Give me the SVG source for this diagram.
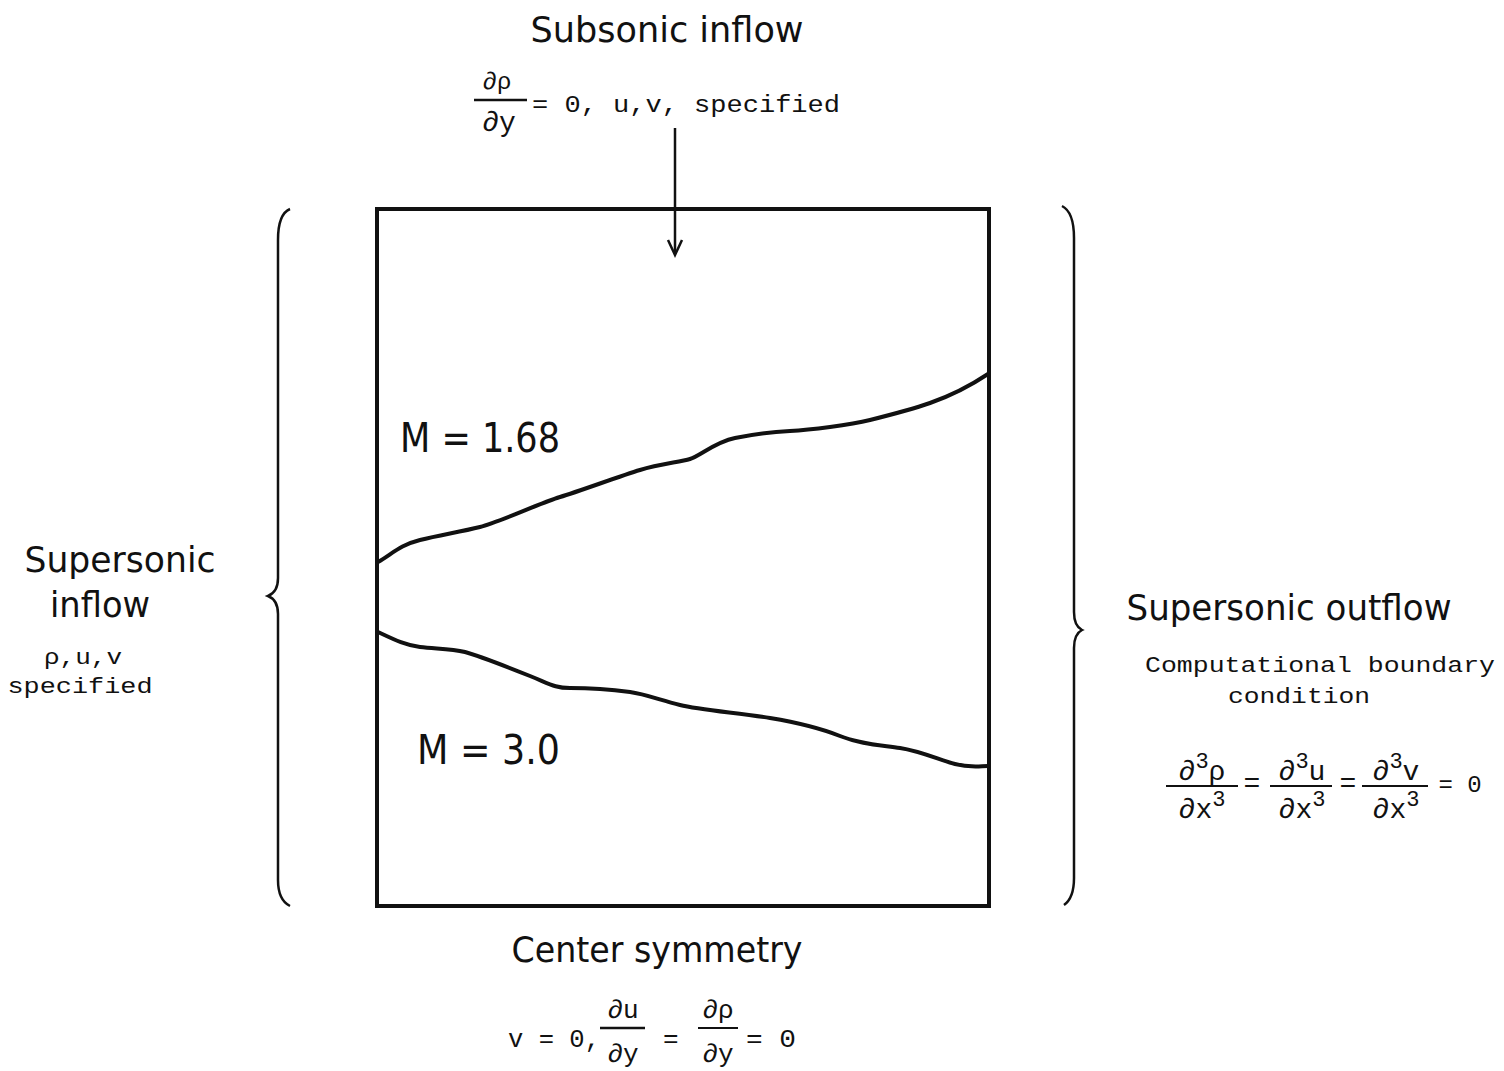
<svg xmlns="http://www.w3.org/2000/svg" width="1504" height="1071" viewBox="0 0 1504 1071">
<style>
.h{font-family:"DejaVu Sans Condensed","Liberation Sans Narrow","DejaVu Sans",sans-serif;font-stretch:condensed;fill:#111}
.m{font-family:"Liberation Mono","DejaVu Sans Mono",monospace;fill:#111}
.s{font-family:"Liberation Mono","DejaVu Sans Mono",monospace;fill:#111}
.ln{stroke:#111;fill:none}
</style>
<rect width="1504" height="1071" fill="#fff"/>
<g id="domain">
<rect x="377" y="209" width="612" height="697" class="ln" stroke-width="4"/>
</g>
<g id="shock-upper">
<path class="ln" stroke-width="4" d="M378,562 C392,554 400,545 420,540 S460,532 480,527 S540,503 560,497 S620,476 640,470 S680,462 690,459 S715,442 735,438 S770,432 790,431 S850,425 870,420 S910,410 930,403 S970,386 988,374"/>
<text class="h" x="400" y="452" font-size="40" textLength="160" lengthAdjust="spacingAndGlyphs">M = 1.68</text>
</g>
<g id="shock-lower">
<path class="ln" stroke-width="4" d="M378,632 C395,640 405,645 420,647 S450,648 465,652 S510,668 530,676 S555,688 570,688 S615,690 630,692 S660,700 680,705 S740,713 770,718 S820,728 840,736 S880,745 900,748 S940,760 955,764 S980,766 988,766"/>
<text class="h" x="417" y="764" font-size="40" textLength="143" lengthAdjust="spacingAndGlyphs">M = 3.0</text>
</g>
<g id="top-bc">
<text class="h" x="667" y="42" font-size="36" text-anchor="middle" textLength="273" lengthAdjust="spacingAndGlyphs">Subsonic inflow</text>
<text class="s" x="497" y="89" font-size="24" text-anchor="middle">∂ρ</text>
<line x1="474" y1="100" x2="527" y2="100" class="ln" stroke-width="2.5"/>
<text class="s" x="499" y="131" font-size="28" text-anchor="middle">∂y</text>
<text class="m" x="532" y="112" font-size="24" textLength="308" lengthAdjust="spacingAndGlyphs">= 0, u,v, specified</text>
</g>
<g id="left-bc">
<text class="h" x="120" y="572" font-size="36" text-anchor="middle" textLength="191" lengthAdjust="spacingAndGlyphs">Supersonic</text>
<text class="h" x="100" y="617" font-size="36" text-anchor="middle" textLength="100" lengthAdjust="spacingAndGlyphs">inflow</text>
<text class="m" x="83" y="664" font-size="22" text-anchor="middle" textLength="78" lengthAdjust="spacingAndGlyphs">ρ,u,v</text>
<text class="m" x="80" y="693" font-size="22" text-anchor="middle" textLength="145" lengthAdjust="spacingAndGlyphs">specified</text>
</g>
<g id="right-bc">
<text class="h" x="1289" y="620" font-size="36" text-anchor="middle" textLength="325" lengthAdjust="spacingAndGlyphs">Supersonic outflow</text>
<text class="m" x="1320" y="672" font-size="22" text-anchor="middle" textLength="350" lengthAdjust="spacingAndGlyphs">Computational boundary</text>
<text class="m" x="1299" y="703" font-size="22" text-anchor="middle" textLength="142" lengthAdjust="spacingAndGlyphs">condition</text>
<g class="s" font-size="28" text-anchor="middle">
<text x="1202" y="780">∂<tspan font-size="22" dy="-12">3</tspan><tspan dy="12">ρ</tspan></text>
<line x1="1166" y1="786" x2="1238" y2="786" class="ln" stroke-width="2"/>
<text x="1202" y="818">∂x<tspan font-size="22" dy="-12">3</tspan></text>
<text x="1252" y="792">=</text>
<text x="1302" y="780">∂<tspan font-size="22" dy="-12">3</tspan><tspan dy="12">u</tspan></text>
<line x1="1270" y1="786" x2="1332" y2="786" class="ln" stroke-width="2"/>
<text x="1302" y="818">∂x<tspan font-size="22" dy="-12">3</tspan></text>
<text x="1348" y="792">=</text>
<text x="1396" y="780">∂<tspan font-size="22" dy="-12">3</tspan><tspan dy="12">v</tspan></text>
<line x1="1362" y1="786" x2="1428" y2="786" class="ln" stroke-width="2"/>
<text x="1396" y="818">∂x<tspan font-size="22" dy="-12">3</tspan></text>
<text x="1460" y="792" font-size="24">= 0</text>
</g>
</g>
<g id="bottom-bc">
<text class="h" x="657" y="962" font-size="36" text-anchor="middle" textLength="291" lengthAdjust="spacingAndGlyphs">Center symmetry</text>
<g class="s" font-size="26">
<text x="508" y="1047" textLength="92" lengthAdjust="spacingAndGlyphs">v = 0,</text>
<text x="623" y="1018" text-anchor="middle">∂u</text>
<line x1="600" y1="1028" x2="645" y2="1028" class="ln" stroke-width="2.5"/>
<text x="623" y="1062" text-anchor="middle">∂y</text>
<text x="663" y="1047">=</text>
<text x="718" y="1018" text-anchor="middle">∂ρ</text>
<line x1="698" y1="1028" x2="738" y2="1028" class="ln" stroke-width="2"/>
<text x="718" y="1062" text-anchor="middle">∂y</text>
<text x="746" y="1047" textLength="50" lengthAdjust="spacingAndGlyphs">= 0</text>
</g>
</g>
<g id="connectors">
<line x1="675" y1="128" x2="675" y2="254" class="ln" stroke-width="2.5"/>
<path d="M668,240 L675,255 L682,240" class="ln" stroke-width="2.5"/>
<path class="ln" stroke-width="2.5" d="M290,209 Q278,214 278,240 L278,578 Q278,592 268,596 Q278,600 278,614 L278,880 Q278,900 290,906"/>
<path class="ln" stroke-width="2.5" d="M1062,206 Q1074,212 1074,238 L1074,612 Q1074,626 1082,630 Q1074,634 1074,648 L1074,878 Q1074,898 1064,905"/>
</g>
</svg>
